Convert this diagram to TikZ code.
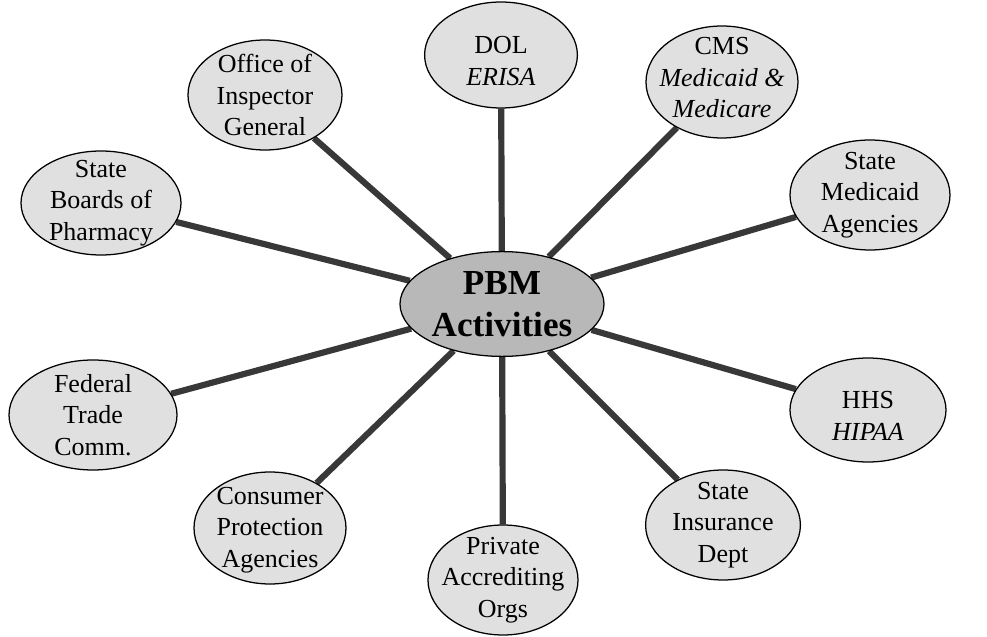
\documentclass[tikz,border=0pt]{standalone}
\usepackage{fontspec}
\setmainfont{Liberation Serif}
\usepackage{tikz}
\usetikzlibrary{shapes.geometric, backgrounds}

\tikzset{
  agency/.style={ellipse, draw=black, line width=0.9pt, fill=black!12, inner sep=0pt},
  hubnode/.style={ellipse, draw=black, line width=0.9pt, fill=black!28, inner sep=0pt},
  lbl/.style={align=center, inner sep=0pt, font=\fontsize{18.5}{22.4}\selectfont},
  spoke/.style={line width=4.4pt, black!78}
}

\begin{document}
\begin{tikzpicture}
  \useasboundingbox (0,0) rectangle (24.675,15.9);
  % centre
  \node[hubnode, minimum width=5.1cm, minimum height=2.62cm,
    label={[lbl, font=\fontsize{25}{30}\selectfont\bfseries]center:{PBM\\Activities}}]
    (hub) at (12.55,8.3) {};
  % top row
  \node[agency, minimum width=3.82cm, minimum height=2.65cm,
    label={[lbl, yshift=-0.15cm]center:{DOL\\\textit{ERISA}}}] (dol) at (12.525,14.525) {};
  \node[agency, minimum width=3.8cm, minimum height=2.8cm,
    label={[lbl, yshift=0.1cm]center:{CMS\\\textit{Medicaid \&}\\\textit{Medicare}}}] (cms) at (18.05,13.85) {};
  \node[agency, minimum width=3.85cm, minimum height=2.75cm,
    label={[lbl]center:{Office of\\Inspector\\General}}] (oig) at (6.625,13.525) {};
  % sides
  \node[agency, minimum width=4.0cm, minimum height=2.75cm,
    label={[lbl]center:{State\\Medicaid\\Agencies}}] (smed) at (21.75,11.025) {};
  \node[agency, minimum width=4.0cm, minimum height=2.6cm,
    label={[lbl]center:{State\\Boards of\\Pharmacy}}] (sbop) at (2.525,10.825) {};
  \node[agency, minimum width=4.2cm, minimum height=2.75cm,
    label={[lbl]center:{Federal\\Trade\\Comm.}}] (ftc) at (2.325,5.525) {};
  \node[agency, minimum width=3.9cm, minimum height=2.6cm,
    label={[lbl, yshift=-0.15cm]center:{HHS\\\textit{HIPAA}}}] (hhs) at (21.7,5.65) {};
  % bottom row
  \node[agency, minimum width=3.8cm, minimum height=2.8cm,
    label={[lbl, yshift=-0.05cm]center:{Consumer\\Protection\\Agencies}}] (cpa) at (6.75,2.7) {};
  \node[agency, minimum width=3.87cm, minimum height=2.75cm,
    label={[lbl]center:{State\\Insurance\\Dept}}] (sid) at (18.075,2.775) {};
  \node[agency, minimum width=3.75cm, minimum height=2.75cm,
    label={[lbl]center:{Private\\Accrediting\\Orgs}}] (pao) at (12.575,1.4) {};
  % spokes
  \begin{pgfonlayer}{background}
    \draw[spoke] (hub) -- (dol);
    \draw[spoke] (hub) -- (cms);
    \draw[spoke] (hub) -- (oig);
    \draw[spoke] (hub) -- (smed);
    \draw[spoke] (hub) -- (sbop);
    \draw[spoke] (hub) -- (ftc);
    \draw[spoke] (hub) -- (hhs);
    \draw[spoke] (hub) -- (cpa);
    \draw[spoke] (hub) -- (sid);
    \draw[spoke] (hub) -- (pao);
  \end{pgfonlayer}
\end{tikzpicture}
\end{document}
